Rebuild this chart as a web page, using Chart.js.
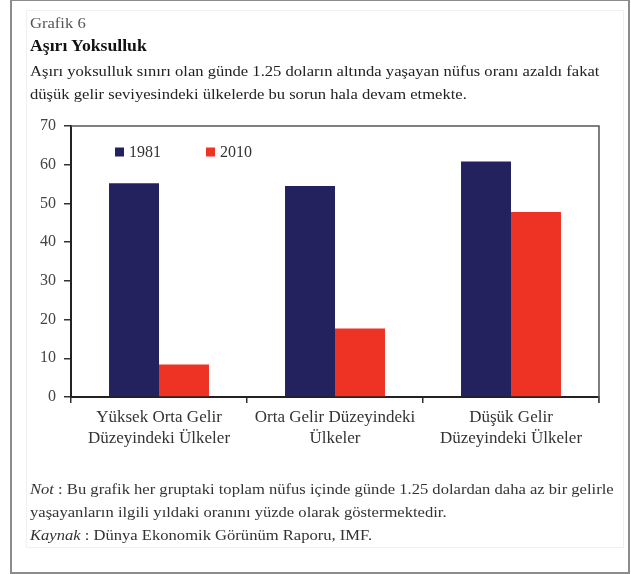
<!DOCTYPE html>
<html>
<head>
<meta charset="utf-8">
<script src="https://cdn.jsdelivr.net/npm/chart.js@4/dist/chart.umd.min.js"></script>
<style>
  html, body { margin: 0; padding: 0; background: #fff; }
  body { width: 631px; height: 574px; position: relative; overflow: hidden; font-family: "Liberation Serif", "Times New Roman", serif; }
  #frame { position: absolute; left: 10px; top: -1px; width: 616px; height: 571px; border: 2px solid #8c8c8c; }
  #panel { position: absolute; left: 26px; top: 10px; width: 596px; height: 536px; border: 1px solid #f0f0f0; }
  .line { position: absolute; left: 30px; white-space: nowrap; color: #222; transform-origin: 0 0; transform: scaleX(1.105); }
  #chartBox { position: absolute; left: 0; top: 0; width: 631px; height: 574px; }
</style>
</head>
<body>
<div id="frame"></div>
<div id="panel"></div>
<div id="chartBox"><canvas id="chart"></canvas></div>
<div id="text"></div>
<script>
// Bar groups (two-line category labels)
const categories = [
  ["Yüksek Orta Gelir", "Düzeyindeki Ülkeler"],
  ["Orta Gelir Düzeyindeki", "Ülkeler"],
  ["Düşük Gelir", "Düzeyindeki Ülkeler"]
];
const seriesNames = ["1981", "2010"];
// Share of population living on less than 1.25 dollars a day (%)
const values1981 = [55.2, 54.5, 60.8];
const values2010 = [8.4, 17.7, 47.8];
const yTickMin = 0;
const yTickMax = 70;
const yTickStep = 10;

// Heading and note lines: [baseline y, font size, color, html]
const textLines = [
  [29, 15, "#555", "Grafik 6"],
  [52, 16, "#111", "<b>Aşırı Yoksulluk</b>"],
  [77, 15, "#222", "Aşırı yoksulluk sınırı olan günde 1.25 doların altında yaşayan nüfus oranı azaldı fakat"],
  [100, 15, "#222", "düşük gelir seviyesindeki ülkelerde bu sorun hala devam etmekte."],
  [495, 15, "#333", "<i>Not</i> : Bu grafik her gruptaki toplam nüfus içinde günde 1.25 dolardan daha az bir gelirle"],
  [518, 15, "#333", "yaşayanların ilgili yıldaki oranını yüzde olarak göstermektedir."],
  [541, 15, "#333", "<i>Kaynak</i> : Dünya Ekonomik Görünüm Raporu, IMF."]
];

const textHost = document.getElementById("text");
textLines.forEach(([baseline, size, color, html]) => {
  const d = document.createElement("div");
  d.className = "line";
  d.style.fontSize = size + "px";
  d.style.lineHeight = "normal";
  d.style.color = color;
  d.style.top = (baseline - 0.912 * size) + "px";
  d.innerHTML = html;
  textHost.appendChild(d);
});

const SERIF = "'Liberation Serif', 'Times New Roman', serif";
const NAVY = "#23225f";
const RED = "#ee3325";

// Legend drawn inside the plot, near the top-left corner
const insideLegend = {
  id: "insideLegend",
  afterDraw(chart) {
    const { ctx, chartArea } = chart;
    ctx.save();
    ctx.font = "16px " + SERIF;
    ctx.textBaseline = "middle";
    ctx.textAlign = "left";
    const y = chartArea.top + 26;
    chart.data.datasets.forEach((ds, i) => {
      const x = chartArea.left + 44 + i * 91;
      ctx.fillStyle = ds.backgroundColor;
      ctx.fillRect(x, y - 4.5, 9, 9);
      ctx.fillStyle = "#333";
      ctx.fillText(ds.label, x + 14, y + 1);
    });
    ctx.restore();
  }
};

// Thin box line along the top and right of the plot area
const plotBox = {
  id: "plotBox",
  beforeDatasetsDraw(chart) {
    const { ctx, chartArea } = chart;
    ctx.save();
    ctx.strokeStyle = "#555";
    ctx.lineWidth = 1.5;
    ctx.beginPath();
    ctx.moveTo(chartArea.left, chartArea.top);
    ctx.lineTo(chartArea.right, chartArea.top);
    ctx.lineTo(chartArea.right, chartArea.bottom + 6);
    ctx.stroke();
    ctx.restore();
  }
};

new Chart(document.getElementById("chart"), {
  type: "bar",
  data: {
    labels: categories,
    datasets: [
      { label: seriesNames[0], data: values1981, backgroundColor: NAVY },
      { label: seriesNames[1], data: values2010, backgroundColor: RED }
    ]
  },
  options: {
    responsive: true,
    maintainAspectRatio: false,
    animation: false,
    datasets: { bar: { barPercentage: 1.0, categoryPercentage: 0.568 } },
    layout: { padding: { left: 31, right: 32, top: 126, bottom: 117 } },
    plugins: {
      legend: { display: false },
      tooltip: { enabled: false },
      title: { display: false }
    },
    scales: {
      x: {
        offset: true,
        afterFit(scale) { scale.height = 60; },
        grid: { display: true, offset: true, drawOnChartArea: false, drawTicks: true, tickLength: 6, color: "#333", lineWidth: 1.5 },
        border: { display: true, color: "#222", width: 2 },
        ticks: { color: "#333", padding: 4, font: { family: SERIF, size: 17, lineHeight: 1.25 } }
      },
      y: {
        min: yTickMin,
        max: yTickMax,
        afterFit(scale) { scale.width = 40; },
        grid: { display: true, drawOnChartArea: false, drawTicks: true, tickLength: 7, color: "#333", lineWidth: 1.5 },
        border: { display: true, color: "#222", width: 2 },
        ticks: { stepSize: yTickStep, color: "#444", padding: 8, font: { family: SERIF, size: 16 } }
      }
    }
  },
  plugins: [insideLegend, plotBox]
});
</script>
</body>
</html>
